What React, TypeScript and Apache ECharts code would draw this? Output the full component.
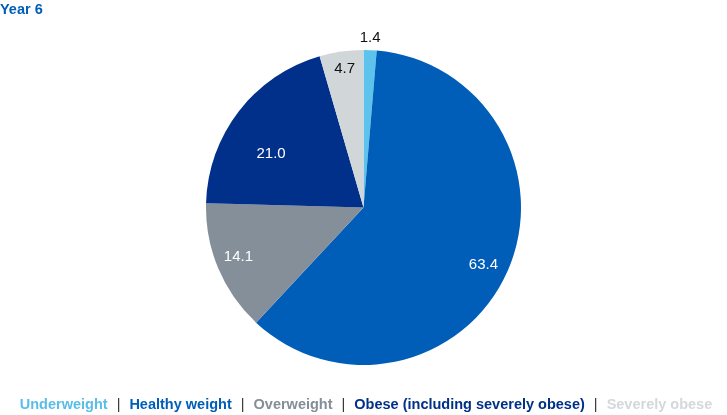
import React, { useEffect, useRef } from "react";
import * as echarts from "echarts";

const titleText = "Year 6";
const categories = [
  "Underweight",
  "Healthy weight",
  "Overweight",
  "Obese (including severely obese)",
  "Severely obese",
];
const values = [1.4, 63.4, 14.1, 21.0, 4.7];
const sliceColors = ["#5EC3EC", "#005EB8", "#858F9A", "#00308A", "#D1D6D9"];
const legendColors = ["#5ABDE8", "#005EB8", "#848E99", "#003087", "#D3D8DB"];
const labelColors = ["#111111", "#FFFFFF", "#FFFFFF", "#FFFFFF", "#111111"];
const labelNudges = [
  [1, -37],
  [-3, 1],
  [-1, -4],
  [14, 27],
  [0, -7],
];

const FONT = "'Liberation Sans', Arial, sans-serif";

export default function App() {
  const ref = useRef<HTMLDivElement>(null);

  useEffect(() => {
    if (!ref.current) return;
    const chart = echarts.init(ref.current, null, { renderer: "svg" });
    const last = categories[categories.length - 1];
    chart.setOption({
      animation: false,
      title: {
        text: titleText,
        left: 0,
        top: 1,
        padding: 0,
        textStyle: {
          fontFamily: FONT,
          fontSize: 14.5,
          fontWeight: "bold",
          color: "#005EB8",
        },
      },
      legend: {
        left: "center",
        top: 396,
        icon: "none",
        itemWidth: 0,
        itemHeight: 0,
        itemGap: 4,
        padding: 0,
        selectedMode: false,
        data: categories.map((name, i) => ({
          name,
          textStyle: { color: legendColors[i] },
        })),
        formatter: (name: string) => (name === last ? name : `${name}{s|  |}`),
        textStyle: {
          fontFamily: FONT,
          fontSize: 14.5,
          fontWeight: "bold",
          padding: 0,
          rich: {
            s: {
              fontFamily: FONT,
              fontSize: 14.5,
              fontWeight: "normal",
              color: "#333333",
              padding: [0, 0, 0, 1],
            },
          },
        },
      },
      series: [
        {
          type: "pie",
          center: [363.5, 207.5],
          radius: [0, 157.5],
          startAngle: 90,
          clockwise: true,
          silent: true,
          label: { show: false },
          labelLine: { show: false },
          emphasis: { disabled: true },
          data: categories.map((name, i) => ({
            name,
            value: values[i],
            itemStyle: { color: sliceColors[i] },
          })),
        },
        {
          type: "pie",
          center: [363.5, 207.5],
          radius: [105, 158],
          startAngle: 90,
          clockwise: true,
          silent: true,
          emphasis: { disabled: true },
          itemStyle: { color: "rgba(0,0,0,0)" },
          labelLine: { show: false },
          label: {
            show: true,
            position: "inside",
            fontFamily: FONT,
            fontSize: 15,
            formatter: (p: any) => Number(p.value).toFixed(1),
          },
          labelLayout: (p: any) => ({
            dx: labelNudges[p.dataIndex][0],
            dy: labelNudges[p.dataIndex][1],
          }),
          data: categories.map((name, i) => ({
            name,
            value: values[i],
            label: { color: labelColors[i] },
          })),
        },
      ],
    });
    return () => chart.dispose();
  }, []);

  return (
    <div
      ref={ref}
      style={{ position: "fixed", left: 0, top: 0, width: 727, height: 415 }}
    />
  );
}
